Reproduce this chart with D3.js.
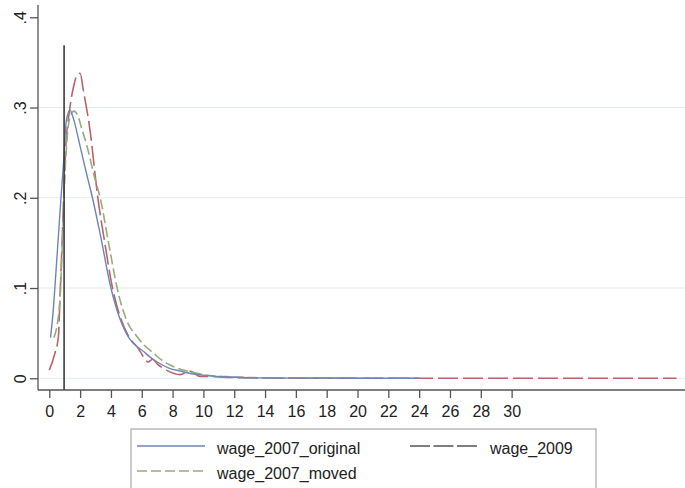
<!DOCTYPE html>
<html>
<head>
<meta charset="utf-8">
<script src="https://cdn.jsdelivr.net/npm/d3@7"></script>
<style>
  html, body { margin: 0; padding: 0; background: #ffffff; }
  svg { display: block; font-family: "Liberation Sans", Arial, sans-serif; }
</style>
</head>
<body>
<svg id="chart" width="685" height="488"></svg>
<script>
// Kernel density estimates of hourly wages
const xTicks = [0, 2, 4, 6, 8, 10, 12, 14, 16, 18, 20, 22, 24, 26, 28, 30];
const yTicks = [0, 0.1, 0.2, 0.3, 0.4];
const yTickLabels = ["0", ".1", ".2", ".3", ".4"];

const origX = [0.08, 0.26, 0.4, 0.6, 0.76, 0.92, 1.1, 1.34, 1.56, 2.0, 2.4, 2.8, 3.3, 4.0, 4.6, 5.2, 5.7, 6.1, 6.5, 7.0, 7.8, 8.5, 9.1, 10.4, 11.5, 13, 16, 20, 24];
const origY = [0.045, 0.076, 0.11, 0.16, 0.2, 0.238, 0.285, 0.297, 0.288, 0.257, 0.228, 0.2, 0.16, 0.1, 0.065, 0.044, 0.035, 0.03, 0.024, 0.018, 0.011, 0.008, 0.0055, 0.0026, 0.0015, 0.0005, 0.0002, 0.0001, 0.0];

const movedX = [0.3, 0.5, 0.7, 0.85, 1.0, 1.15, 1.35, 1.6, 1.85, 2.1, 2.45, 2.9, 3.3, 3.9, 4.4, 5.0, 5.7, 6.2, 6.75, 7.3, 7.8, 8.5, 9.1, 10.4, 11.5, 13, 16, 20, 24];
const movedY = [0.045, 0.058, 0.09, 0.15, 0.22, 0.265, 0.29, 0.296, 0.291, 0.277, 0.257, 0.225, 0.2, 0.145, 0.1, 0.065, 0.046, 0.036, 0.028, 0.02, 0.015, 0.01, 0.0074, 0.003, 0.0018, 0.0008, 0.0003, 0.0001, 0.0];

const w2009X = [0, 0.37, 0.59, 0.69, 0.85, 1.05, 1.34, 1.6, 1.8, 2.0, 2.2, 2.64, 3.15, 3.6, 4.1, 4.6, 5.2, 5.78, 6.1, 6.42, 6.7, 7.0, 7.6, 8.5, 9.1, 9.8, 10.5, 11.5, 13, 16, 20, 25, 30, 35, 40.7];
const w2009Y = [0.009, 0.028, 0.046, 0.087, 0.16, 0.25, 0.3, 0.325, 0.336, 0.338, 0.32, 0.275, 0.2, 0.15, 0.1, 0.068, 0.045, 0.033, 0.024, 0.018, 0.021, 0.016, 0.009, 0.004, 0.008, 0.002, 0.002, 0.001, 0.0005, 0.0002, 0.0001, 0, 0, 0, 0];

// Reference line position and height
const refLineX = 0.96;
const refLineTop = 0.369;

const seriesNames = ["wage_2007_original", "wage_2009", "wage_2007_moved"];

const svg = d3.select("#chart");

const x = d3.scaleLinear().domain([-0.733, 41.25]).range([38, 685]);
const y = d3.scaleLinear().domain([-0.013, 0.4136]).range([390, 5]);

// Horizontal grid lines
svg.append("g").selectAll("line")
  .data(yTicks.slice(0, 4))
  .join("line")
  .attr("x1", 38).attr("x2", 685)
  .attr("y1", d => y(d)).attr("y2", d => y(d))
  .attr("stroke", "#e3eaf0").attr("stroke-width", 1.2);

// Y axis
const yAxis = svg.append("g").attr("transform", "translate(38,0)")
  .call(d3.axisLeft(y).tickValues(yTicks).tickSize(8).tickFormat((d, i) => yTickLabels[i]));
yAxis.select(".domain").attr("d", `M0,${y.range()[0]}V${y.range()[1]}`).attr("stroke", "#555").attr("stroke-width", 1.3);
yAxis.selectAll(".tick line").attr("stroke", "#555").attr("stroke-width", 1.3);
yAxis.selectAll(".tick text")
  .attr("x", 0).attr("y", 0).attr("dy", 0)
  .attr("transform", "translate(-12,0) rotate(-90)")
  .attr("text-anchor", "middle")
  .attr("font-size", 16).attr("fill", "#222");

// X axis
const xAxis = svg.append("g").attr("transform", "translate(0,390)")
  .call(d3.axisBottom(x).tickValues(xTicks).tickSize(8).tickFormat(d3.format("d")));
xAxis.select(".domain").attr("d", `M${x.range()[0]},0H${x.range()[1]}`).attr("stroke", "#555").attr("stroke-width", 1.3);
xAxis.selectAll(".tick line").attr("stroke", "#555").attr("stroke-width", 1.3);
xAxis.selectAll(".tick text").attr("y", 16).attr("dy", "0.71em").attr("font-size", 16).attr("fill", "#222");

const line = d3.line().x(d => x(d[0])).y(d => y(d[1])).curve(d3.curveMonotoneX);
const zip = (xs, ys) => xs.map((v, i) => [v, ys[i]]);

// Density curves
svg.append("path").datum(zip(w2009X, w2009Y))
  .attr("d", line).attr("fill", "none")
  .attr("stroke", "#b9636b").attr("stroke-width", 1.6).attr("stroke-dasharray", "20,5");
svg.append("path").datum(zip(movedX, movedY))
  .attr("d", line).attr("fill", "none")
  .attr("stroke", "#97ab7c").attr("stroke-width", 1.6).attr("stroke-dasharray", "10,4");
svg.append("path").datum(zip(origX, origY))
  .attr("d", line).attr("fill", "none")
  .attr("stroke", "#6d86b6").attr("stroke-width", 1.4);

// Vertical reference line
svg.append("line")
  .attr("x1", x(refLineX)).attr("x2", x(refLineX))
  .attr("y1", y(refLineTop)).attr("y2", 390)
  .attr("stroke", "#3c3c3c").attr("stroke-width", 1.6);

// Legend
const lg = svg.append("g");
lg.append("rect").attr("x", 131).attr("y", 429).attr("width", 465).attr("height", 70)
  .attr("fill", "#fff").attr("stroke", "#a8a8a8").attr("stroke-width", 1.2);
const legendItems = [
  { name: seriesNames[0], kx: 137, ky: 446, color: "#6d86b6", dash: null },
  { name: seriesNames[1], kx: 410, ky: 446, color: "#555555", dash: "20,3.5" },
  { name: seriesNames[2], kx: 137, ky: 471, color: "#97ab7c", dash: "10,4" }
];
legendItems.forEach(it => {
  lg.append("line")
    .attr("x1", it.kx).attr("x2", it.kx + 68)
    .attr("y1", it.ky).attr("y2", it.ky)
    .attr("stroke", it.color).attr("stroke-width", 1.5)
    .attr("stroke-dasharray", it.dash);
  lg.append("text")
    .attr("x", it.kx + 80).attr("y", it.ky + 8)
    .attr("font-size", 16).attr("fill", "#222")
    .text(it.name);
});
</script>
</body>
</html>
